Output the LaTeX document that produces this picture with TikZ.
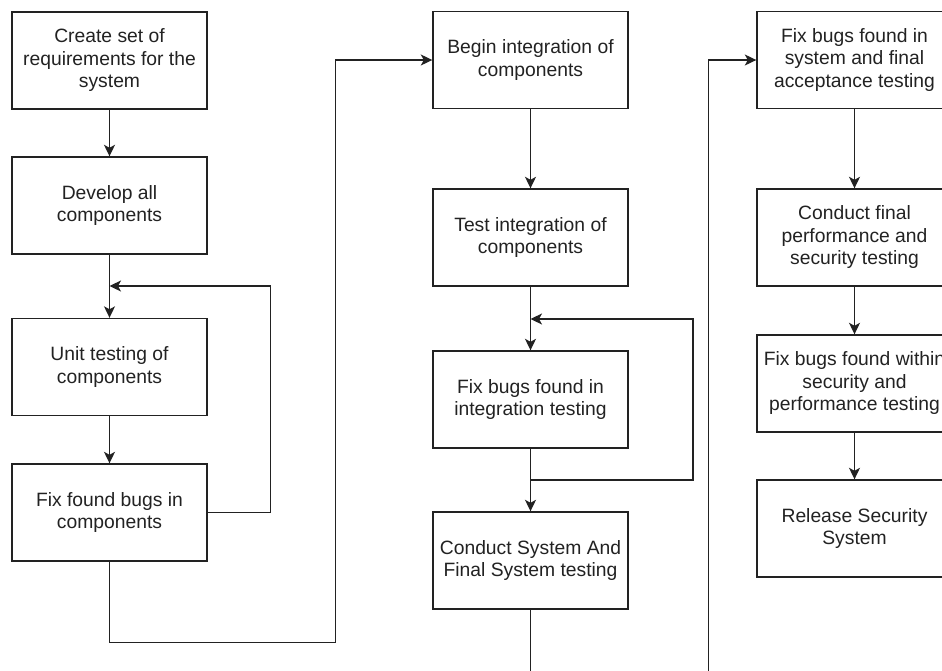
\documentclass[tikz,border=0pt]{standalone}
\usepackage{fontspec}
\setmainfont{Liberation Sans}
\usetikzlibrary{arrows.meta,calc}
\definecolor{ink}{HTML}{222222}
\begin{document}
\begin{tikzpicture}[x=1pt,y=-1pt,
  stepbox/.style={draw=ink, line width=1.4pt, rectangle, minimum width=195pt,
    minimum height=97pt, inner sep=0pt, align=center, text=ink,
    font=\fontsize{19.3}{22.5}\selectfont},
  wire/.style={draw=ink, line width=1.4pt},
  flow/.style={wire, -{Stealth[length=11.5pt,width=11pt,inset=3pt]}}]
\useasboundingbox (0,0) rectangle (942,670);
\fill[white] (0,0) rectangle (942,670);
\clip (0,0) rectangle (942,670);

% development phase
\node[stepbox] (req)  at (109.5,60.5)  {Create set of\\requirements for the\\system};
\node[stepbox] (dev)  at (109.5,205.5) {Develop all\\components};
\node[stepbox] (unit) at (109.5,367)   {Unit testing of\\components};
\node[stepbox] (fixc) at (109.5,512.5) {Fix found bugs in\\components};

% integration phase
\node[stepbox] (begin) at (530.5,60)    {Begin integration of\\components};
\node[stepbox] (testi) at (530.5,237.5) {Test integration of\\components};
\node[stepbox] (fixi)  at (530.5,399.5) {Fix bugs found in\\integration testing};
\node[stepbox] (sys)   at (530.5,560.5) {Conduct System And\\Final System testing};

% acceptance and release phase
\node[stepbox] (fixs) at (854.5,60)    {Fix bugs found in\\system and final\\acceptance testing};
\node[stepbox] (perf) at (854.5,237.5) {Conduct final\\performance and\\security testing};
\node[stepbox] (fixp) at (854.5,383.5) {Fix bugs found within\\security and\\performance testing};
\node[stepbox] (rel)  at (854.5,528.5) {Release Security\\System};

% development flow with the bug-fix loop
\coordinate (j1) at (109.5,286);
\draw[flow] (req) -- (dev);
\draw[flow] (dev) -- (unit);
\draw[flow] (unit) -- (fixc);
\draw[flow] (fixc.east) -- ++(63,0) |- (j1);
\draw[flow] (fixc.south) -- ++(0,81) -| ($(begin.west)+(-97,0)$) -- (begin.west);

% integration flow with the bug-fix loop
\coordinate (j2) at (530.5,319);
\coordinate (s2) at (530.5,480);
\draw[flow] (begin) -- (testi);
\draw[flow] (testi) -- (fixi);
\draw[wire] (fixi.south) -- (s2);
\draw[flow] (s2) -- (sys);
\draw[flow] (s2) -- ++(162.5,0) |- (j2);
\draw[flow] (sys.south) -- ++(0,100) -| ($(fixs.west)+(-48,0)$) -- (fixs.west);

% acceptance flow
\draw[flow] (fixs) -- (perf);
\draw[flow] (perf) -- (fixp);
\draw[flow] (fixp) -- (rel);
\end{tikzpicture}
\end{document}
